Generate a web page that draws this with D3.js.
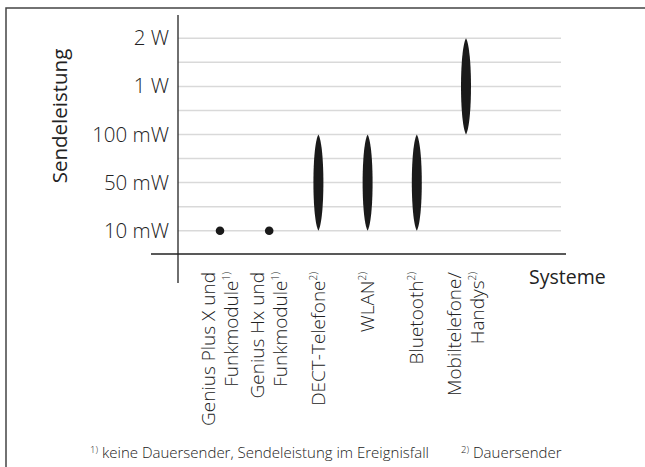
<!DOCTYPE html>
<html>
<head>
<meta charset="utf-8">
<script src="https://cdn.jsdelivr.net/npm/d3@7"></script>
<style>
  body { margin: 0; background: #fff; }
  svg text { font-family: "Open Sans", "Noto Sans", sans-serif; fill: #222; }
</style>
</head>
<body>
<svg id="chart" width="645" height="467"></svg>
<script>
// systems on the x axis, each label split into lines, plus footnote mark
const systems = ["genius-plus", "genius-hx", "dect", "wlan", "bluetooth", "mobil"];
const systemLabels = [
  ["Genius Plus X und", "Funkmodule"],
  ["Genius Hx und", "Funkmodule"],
  ["DECT-Telefone"],
  ["WLAN"],
  ["Bluetooth"],
  ["Mobiltelefone/", "Handys"]
];
const footMarks = ["1)", "1)", "2)", "2)", "2)", "2)"];

// transmit power range in mW (min, max)
const powerMin = [10, 10, 10, 10, 10, 100];
const powerMax = [10, 10, 100, 100, 100, 2000];

// y axis levels
const tickValues = [10, 50, 100, 1000, 2000];
const tickLabels = ["10 mW", "50 mW", "100 mW", "1 W", "2 W"];

const footnotes = [
  ["1)", "keine Dauersender, Sendeleistung im Ereignisfall"],
  ["2)", "Dauersender"]
];

const svg = d3.select("#chart");

// outer frame (only left and top edges visible)
svg.append("path")
  .attr("d", "M6,467V8H645")
  .attr("fill", "none")
  .attr("stroke", "#444")
  .attr("stroke-width", 1.5);

const yBottom = 230.7, yTop = 38.3;
const step = (yBottom - yTop) / (tickValues.length - 1);
const y = d3.scaleLinear()
  .domain(tickValues)
  .range(tickValues.map((d, i) => yBottom - i * step));

const x = d3.scalePoint()
  .domain(systems)
  .range([220, 466]);

const axisX = 178, gridRight = 561;

// gridlines at each level and halfway between
const gridYs = [];
tickValues.forEach((v, i) => {
  gridYs.push(y(v));
  if (i < tickValues.length - 1) gridYs.push(y(v) - step / 2);
});
svg.append("g")
  .selectAll("line")
  .data(gridYs)
  .enter().append("line")
  .attr("x1", axisX).attr("x2", gridRight)
  .attr("y1", d => d).attr("y2", d => d)
  .attr("stroke", "#d9d9d9")
  .attr("stroke-width", 1.5);

// y axis labels
const yAxis = svg.append("g")
  .attr("transform", `translate(${axisX - 9},0)`)
  .call(d3.axisLeft(y).tickValues(tickValues).tickFormat((d, i) => tickLabels[i]).tickSize(0).tickPadding(0));
yAxis.select(".domain").remove();
yAxis.selectAll("text")
  .attr("font-size", 20.5)
  .attr("font-family", "'Open Sans', sans-serif")
  .attr("fill", "#222")
  .attr("font-weight", 300);

// axis lines
svg.append("line")
  .attr("x1", axisX).attr("x2", axisX)
  .attr("y1", 15).attr("y2", 283)
  .attr("stroke", "#222").attr("stroke-width", 1.3);
svg.append("line")
  .attr("x1", 151).attr("x2", 566)
  .attr("y1", 254).attr("y2", 254)
  .attr("stroke", "#222").attr("stroke-width", 1.3);

// marks: dot for single value, pointed lens for a range
const rows = systems.map((s, i) => ({ s, lo: powerMin[i], hi: powerMax[i] }));
const half = 5;
svg.append("g")
  .selectAll("path")
  .data(rows)
  .enter().append("path")
  .attr("fill", "#1a1a1a")
  .attr("d", d => {
    const cx = x(d.s);
    if (d.lo === d.hi) {
      const r = 4.3, cy = y(d.lo);
      return `M${cx - r},${cy}a${r},${r} 0 1,0 ${2 * r},0a${r},${r} 0 1,0 ${-2 * r},0Z`;
    }
    const y1 = y(d.hi), y2 = y(d.lo), h = y2 - y1;
    return `M${cx},${y1}` +
      `C${cx + half * 1.33},${y1 + h * 0.12} ${cx + half * 1.33},${y2 - h * 0.12} ${cx},${y2}` +
      `C${cx - half * 1.33},${y2 - h * 0.12} ${cx - half * 1.33},${y1 + h * 0.12} ${cx},${y1}Z`;
  });

// category labels, rotated
const lineGap = 22.6;
const labels = svg.append("g")
  .selectAll("text")
  .data(rows)
  .enter().append("text")
  .attr("transform", d => `translate(${x(d.s)},272) rotate(-90)`)
  .attr("text-anchor", "end")
  .attr("font-size", 19)
  .attr("font-weight", 300);
labels.each(function(d, i) {
  const t = d3.select(this);
  const lines = systemLabels[i];
  const first = -(lines.length - 1) * lineGap / 2 + 6.5;
  lines.forEach((line, j) => {
    const ts = t.append("tspan")
      .attr("x", 0)
      .attr("y", first + j * lineGap)
      .text(line);
    if (j === lines.length - 1) {
      ts.append("tspan")
        .attr("font-size", 10)
        .attr("dy", -8)
        .text(footMarks[i]);
    }
  });
});

// axis titles
svg.append("text")
  .attr("transform", "translate(67,116) rotate(-90)")
  .attr("text-anchor", "middle")
  .attr("font-size", 20.5)
  .attr("font-weight", 500)
  .text("Sendeleistung");
svg.append("text")
  .attr("x", 529).attr("y", 284)
  .attr("font-size", 19.5)
  .attr("font-weight", 400)
  .text("Systeme");

// footnotes
const footX = [90, 461];
footnotes.forEach(([mark, txt], i) => {
  const t = svg.append("text")
    .attr("x", footX[i]).attr("y", 458)
    .attr("font-size", 15)
    .attr("font-weight", 300);
  t.append("tspan").attr("font-size", 9.5).attr("dy", -5).text(mark);
  t.append("tspan").attr("dx", 4).attr("dy", 5).text(txt);
});
</script>
</body>
</html>
